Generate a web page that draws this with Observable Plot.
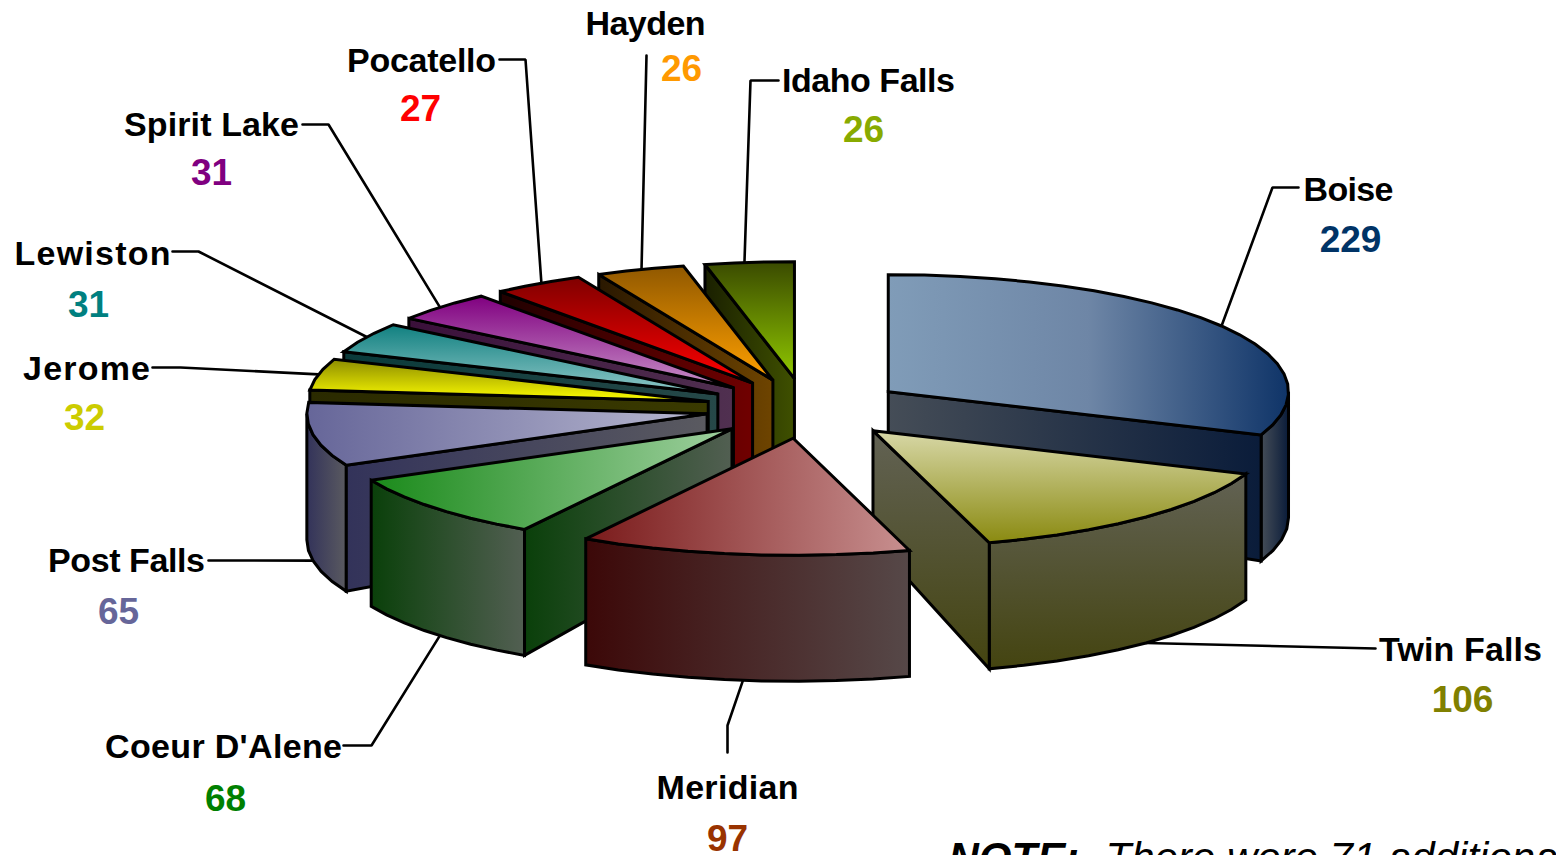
<!DOCTYPE html>
<html>
<head>
<meta charset="utf-8">
<script src="https://cdn.jsdelivr.net/npm/d3@7"></script>
<script src="https://cdn.jsdelivr.net/npm/@observablehq/plot@0.6"></script>
<style>
html,body{margin:0;padding:0;background:#fff;overflow:hidden}
svg{display:block}
</style>
</head>
<body>
<div id="chart"></div>
<script>
// ---- chart values (clockwise from twelve o'clock) ----
const categories = ["Boise","Twin Falls","Meridian","Coeur D'Alene","Post Falls","Jerome","Lewiston","Spirit Lake","Pocatello","Hayden","Idaho Falls"];
const cases = [229,106,97,68,65,32,31,31,27,26,26];
const valueColors = ["#003366","#808000","#993300","#008000","#666699","#cccc00","#008080","#800080","#ff0000","#ff9900","#88aa00"];

// ---- face shading ----
const topStart  = ["#809cb8","#d8d8a8","#7a1a1a","#1a8a1a","#666699","#8c8c00","#108080","#800080","#800000","#905800","#3a4a00"];
const topMid    = ["#6e86a6",null,null,null,null,null,null,null,null,null,null];
const topEnd    = ["#0f3468","#8a8a10","#c89090","#a0d0a0","#b8b8d0","#ffff00","#90c8c8","#c890c8","#ff0000","#ffa000","#90c800"];
const wallStart = ["#454d57","#626254","#3c0808","#0a400a","#33335a","#2a2a00","#0a3a3a","#3a103a","#200000","#2a1800","#1a2000"];
const wallEnd   = ["#0a1c3a","#444410","#564848","#525f52","#5a5a60","#3a3a00","#264848","#503050","#700000","#6e4400","#3f5000"];
const verticalShade = [false,true,false,false,false,true,true,true,true,true,true];
const wallVertical  = [false,true,false,false,false,false,false,false,false,false,false];

// ---- label layout ----
const nameX  = [1348,1460,727,223,126,86,92,211,421,645,868];
const nameY  = [190,650,788,747,561,369,254,125,61,24,81];
const nameWidth = [90,163,142,237,157,127,156,175,149,120,173];
const numX   = [1350,1462,727,225,118,84,88,211,420,681,863];
const numY   = [240,700,839,799,612,418,305,173,109,69,130];
const elbowX = [1272,null,727,371,null,180,198,328,525,646,750];
const elbowY = [187,null,725,745,null,367,251,124,59,55,80];
const endX   = [1298,1375,727,343,208,152,172,302,499,646,778];
const endY   = [187,648,752,745,560,367,251,124,59,55,80];
const fromBase = [false,true,true,true,true,false,false,false,false,false,false];
const leaderShift = [0,0,0,-1,0,0,0.4,-0.5,0.6,0.2,-0.7];

// ---- pseudo-3D projection of the exploded pie ----
const cx = 805, cy = 408, Ex = 100, Ey = 30, Rx = 408, Ry = 117, h0 = 110, h1 = 16, squeeze = 0.019;
const total = d3.sum(cases);
const rad = d => d * Math.PI / 180;
let acc = 0;
const slices = cases.map((v, i) => {
  const a0 = acc / total * 360; acc += v;
  const a1 = acc / total * 360;
  return {i, a0, a1, mid: (a0 + a1) / 2};
});
const pt = (s, a, r, low) => {
  const sn = Math.sin(rad(a));
  return {
    x: cx + Ex * Math.sin(rad(s.mid)) + Rx * r * sn * (1 - squeeze * sn * sn),
    y: cy - Ey * Math.cos(rad(s.mid)) - Ry * r * Math.cos(rad(a)) + (low ? h0 + h1 * r : 0)
  };
};
const arc = (s, low, from = s.a0, to = s.a1) => {
  const n = Math.max(3, Math.round((to - from) / 5));
  return d3.range(n + 1).map(k => pt(s, from + (to - from) * k / n, 1, low));
};
const sideWall = (s, a) => [pt(s, a, 0, false), pt(s, a, 1, false), pt(s, a, 1, true), pt(s, a, 0, true)];
const topFace = s => [pt(s, 0, 0, false), ...arc(s, false)];
// only the parts of the rim that face the viewer get a wall
const outerWall = s => {
  const from = Math.max(s.a0, 90), to = Math.min(s.a1, 270);
  if (from >= to) return null;
  return [...arc(s, false, from, to), ...arc(s, true, from, to).reverse()];
};

const paintOrder = [10,9,8,7,6,5,4,0,1,3,2];

const face = (points, fill) => Plot.line(points, {
  x: "x", y: "y", fill, stroke: "#000", strokeWidth: 3,
  curve: "linear-closed", strokeLinejoin: "miter", strokeMiterlimit: 3
});

const gradientDefs = () => {
  const defs = d3.create("svg:defs");
  const add = (id, c0, cm, c1, vertical) => {
    const g = defs.append("linearGradient").attr("id", id)
      .attr("x1", 0).attr("y1", 0).attr("x2", vertical ? 0 : 1).attr("y2", vertical ? 1 : 0);
    g.append("stop").attr("offset", "0%").attr("stop-color", c0);
    if (cm) g.append("stop").attr("offset", "50%").attr("stop-color", cm);
    g.append("stop").attr("offset", "100%").attr("stop-color", c1);
  };
  categories.forEach((_, i) => {
    add(`top${i}`, topStart[i], topMid[i], topEnd[i], verticalShade[i]);
    add(`wall${i}`, wallStart[i], null, wallEnd[i], wallVertical[i]);
  });
  const g = d3.create("svg:g");
  g.node().appendChild(defs.node());
  return g.node();
};

const leaders = slices.map(s => {
  const i = s.i, p = pt(s, s.mid + leaderShift[i], 1, fromBase[i]);
  const pts = [p];
  if (elbowX[i] !== null) pts.push({x: elbowX[i], y: elbowY[i]});
  pts.push({x: endX[i], y: endY[i]});
  return Plot.line(pts, {x: "x", y: "y", stroke: "#000", strokeWidth: 2.6, strokeLinejoin: "miter"});
});

const sliceMarks = paintOrder.flatMap(i => {
  const s = slices[i], w = `url(#wall${i})`, marks = [];
  const rim = outerWall(s);
  if (rim) marks.push(face(rim, w));
  if (s.a0 > 180) marks.push(face(sideWall(s, s.a0), w));
  if (s.a1 < 180) marks.push(face(sideWall(s, s.a1), w));
  marks.push(face(topFace(s), `url(#top${i})`));
  return marks;
});

const font = "Liberation Sans, Arial, sans-serif";
const rows = categories.map((name, i) => ({name, value: cases[i], color: valueColors[i], nx: nameX[i], ny: nameY[i], vx: numX[i], vy: numY[i]}));

const plot = Plot.plot({
  width: 1556, height: 855, margin: 0,
  style: {background: "#fff", overflow: "hidden"},
  x: {domain: [0, 1556], axis: null},
  y: {domain: [855, 0], axis: null},
  marks: [
    gradientDefs,
    ...leaders,
    ...sliceMarks,
    Plot.text(rows, {x: "nx", y: "ny", text: "name", fontFamily: font, fontWeight: "bold", fontSize: 34, fill: "#000", className: "slice-name"}),
    Plot.text(rows, {x: "vx", y: "vy", text: d => String(d.value), fontFamily: font, fontWeight: "bold", fontSize: 37, fill: "color"}),
    Plot.text(["NOTE:"], {x: [948], y: [857.6], text: d => d, textAnchor: "start", fontFamily: font, fontWeight: "bold", fontStyle: "italic", fontSize: 42, fill: "#000"}),
    Plot.text(["There were 71 additional"], {x: [1105], y: [857.6], text: d => d, textAnchor: "start", fontFamily: font, fontStyle: "italic", fontSize: 42, fill: "#000"})
  ]
});
// names keep the slightly uneven letter spacing of the reference
d3.select(plot).selectAll(".slice-name text").each(function(_, k) {
  d3.select(this).attr("textLength", nameWidth[k]).attr("lengthAdjust", "spacing");
});
document.getElementById("chart").appendChild(plot);
</script>
</body>
</html>
